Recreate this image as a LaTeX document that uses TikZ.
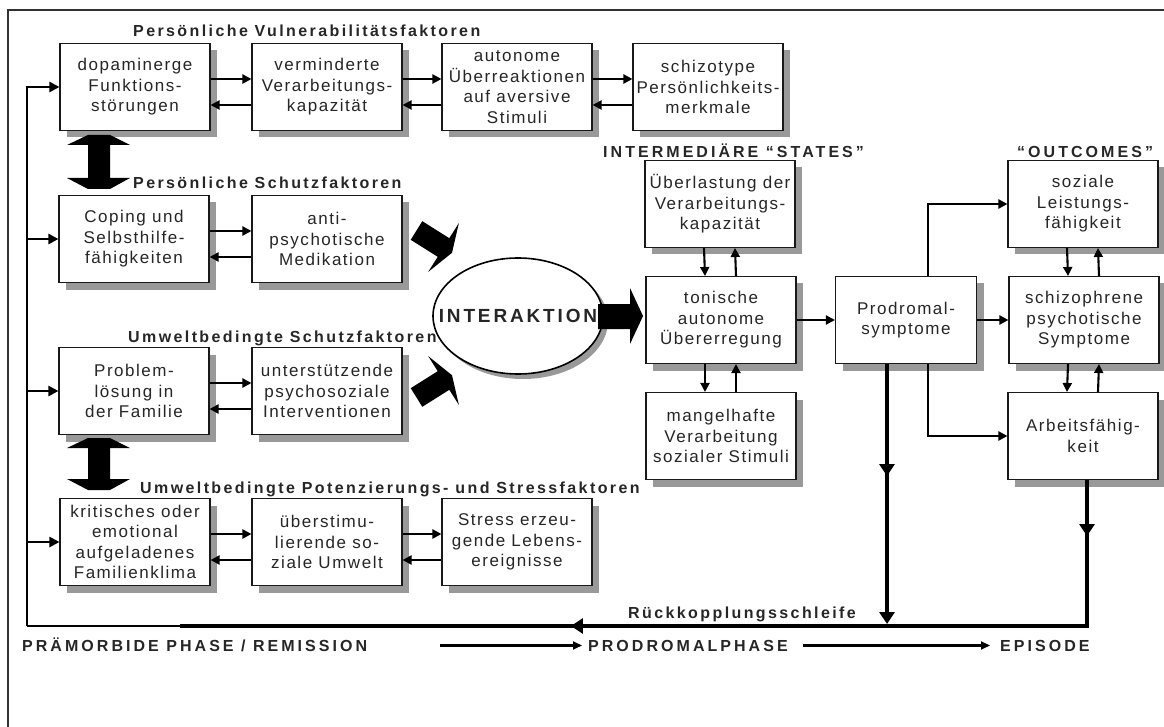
\documentclass[tikz,border=0pt]{standalone}
\usepackage{fontspec}
\setmainfont{Liberation Sans}
\newfontfamily\boxfont[LetterSpace=9]{Liberation Sans}
\newfontfamily\titlefont[LetterSpace=15]{Liberation Sans}
\newfontfamily\capsfont[LetterSpace=19]{Liberation Sans}
\usetikzlibrary{arrows.meta,shadows,decorations.markings,shapes.geometric,calc}
\begin{document}
\begin{tikzpicture}[x=1pt,y=-1pt,
  box/.style={draw=black!90, line width=1.1pt, fill=white, minimum width=150pt, minimum height=87pt,
    align=center, inner sep=1pt, font=\boxfont\fontsize{17}{20.5}\selectfont, text=black!85,
    drop shadow={shadow xshift=7pt, shadow yshift=-7pt, fill=black!40, opacity=1}},
  ttl/.style={font=\titlefont\bfseries\fontsize{16}{18}\selectfont, text=black!85, inner sep=0pt, anchor=base west},
  capttl/.style={font=\capsfont\bfseries\fontsize{16}{18}\selectfont, text=black!85, inner sep=0pt, anchor=base west},
  arr/.style={line width=2.1pt, -{Triangle[length=9pt,width=9pt]}},
  thinarr/.style={line width=2.1pt, -{Triangle[length=9pt,width=8pt]}},
  thickl/.style={line width=4pt},
  bigtip/.style={-{Triangle[length=12pt,width=15pt]}},
  blk/.style={fill=black}
]
\useasboundingbox (0,0) rectangle (1164,727);
% frame
\draw[line width=1.3pt, black!80] (8,727) -- (8,10) -- (1164,10);

% titles
\node[ttl] (t1) at (133,37) {Persönliche Vulnerabilitätsfaktoren};
\node[ttl] (t2) at (133,189) {Persönliche Schutzfaktoren};
\node[ttl] (t4) at (140,493) {Umweltbedingte Potenzierungs- und Stressfaktoren};
\node[capttl] (t5) at (603,158) {INTERMEDIÄRE “STATES”};
\node[capttl] (t6) at (1017,158) {“OUTCOMES”};
\node[ttl] (t7) at (628,618) {Rückkopplungsschleife};
\node[capttl] (ph1) at (22,651) {PRÄMORBIDE PHASE / REMISSION};
\node[capttl] (ph2) at (588,651) {PRODROMALPHASE};
\node[capttl] (ph3) at (1000,651) {EPISODE};

% left column boxes
\node[box] (A) at (135,87) {dopaminerge\\Funktions-\\störungen};
\node[box] (B) at (327,87) {verminderte\\Verarbeitungs-\\kapazität};
\node[box] (C) at (517,87) {autonome\\Überreaktionen\\auf aversive\\Stimuli};
\node[box] (D) at (708,87) {schizotype\\Persönlichkeits-\\merkmale};
\node[box] (E) at (134,239) {Coping und\\Selbsthilfe-\\fähigkeiten};
\node[box] (F) at (327,239) {anti-\\psychotische\\Medikation};
\node[box] (G) at (134,391) {Problem-\\lösung in\\der Familie};
\node[box] (H) at (327,391) {unterstützende\\psychosoziale\\Interventionen};
\node[box] (I) at (135,542) {kritisches oder\\emotional\\aufgeladenes\\Familienklima};
\node[box] (J) at (327,542) {überstimu-\\lierende so-\\ziale Umwelt};
\node[box] (K) at (517,542) {Stress erzeu-\\gende Lebens-\\ereignisse};

% right boxes
\node[box] (L) at (720,204) {Überlastung der\\Verarbeitungs-\\kapazität};
\node[box] (M) at (721,320) {tonische\\autonome\\Übererregung};
\node[box] (N) at (721,436) {mangelhafte\\Verarbeitung\\sozialer Stimuli};
\node[box, minimum width=141pt] (O) at (906,320) {Prodromal-\\symptome};
\node[box] (P) at (1083,204) {soziale\\Leistungs-\\fähigkeit};
\node[box] (Q) at (1084,320) {schizophrene\\psychotische\\Symptome};
\node[box] (R) at (1083,436) {Arbeitsfähig-\\keit};

% interaction ellipse
\node[ellipse, draw=black, line width=1.6pt, fill=white, minimum width=170pt, minimum height=116pt, inner sep=0pt,
  drop shadow={shadow xshift=5pt, shadow yshift=-5pt, fill=black!40, opacity=1}] (X) at (518,316) {};
\node[font=\titlefont\bfseries\fontsize{19}{21}\selectfont, text=black!85, inner sep=0pt] (Xt) at (X.center) {INTERAKTION};
\node[ttl] (t3) at (128,342) {Umweltbedingte Schutzfaktoren};

% horizontal pair arrows
\foreach \a/\b in {A/B,B/C,C/D,E/F,G/H,I/J,J/K}{
  \draw[arr] ([yshift=8pt]\a.east) -- ([yshift=8pt]\b.west);
  \draw[arr] ([yshift=-18pt]\b.west) -- ([yshift=-18pt]\a.east);
}
% vertical pair arrows
\foreach \a/\b in {L/M,M/N,P/Q,Q/R}{
  \draw[arr] ([xshift=-16pt]\a.south) -- ([xshift=-16pt]\b.north);
  \draw[arr] ([xshift=15pt]\b.north) -- ([xshift=15pt]\a.south);
}
\draw[arr] (M.east) -- (O.west |- M.east);
\draw[arr] (O.east) -- (Q.west |- O.east);
\draw[arr] ([xshift=22pt]O.north) |- (P.west);
\draw[arr] ([xshift=22pt]O.south) |- (R.west);

% block double arrows
\fill[blk] (88,135) -- (110,135) -- (130,145) -- (110,145) -- (110,178) -- (130,178) -- (110,189)
  -- (88,189) -- (67,178) -- (88,178) -- (88,145) -- (67,145) -- cycle;
\fill[blk] (88,438) -- (110,438) -- (130,448) -- (110,448) -- (110,479) -- (130,479) -- (110,490)
  -- (88,490) -- (67,479) -- (88,479) -- (88,448) -- (67,448) -- cycle;
% block arrows into ellipse
\fill[blk] (422.3,221.2) -- (449.3,238.2) -- (458.9,223) -- (452,252.8) -- (428.1,272) -- (437.7,256.8) -- (410.7,239.8) -- cycle;
\fill[blk] (422.3,406.8) -- (449.3,389.8) -- (458.9,405) -- (452,375.2) -- (428.1,356) -- (437.7,371.2) -- (410.7,388.2) -- cycle;
% block arrow ellipse -> M
\fill[blk] (598,304) -- (630,304) -- (630,288) -- (643,316) -- (630,344) -- (630,329) -- (598,329) -- cycle;

% feedback loop
\coordinate (fbC) at (1087,626);
\coordinate (fbM) at (180,626);
\coordinate (fbL) at (27,626);
\draw[thickl, postaction={decorate}, decoration={markings,
   mark=at position 56pt with {\arrow{Triangle[length=12pt,width=15pt]}},
   mark=at position 662pt with {\arrow{Triangle[length=12pt,width=15pt]}}}]
   ([xshift=4pt]R.south) -- (fbC) -- (fbM);
\draw[line width=2.6pt] (fbM) -- (fbL);
\draw[line width=2.4pt, -{Triangle[length=10pt,width=10pt]}] (fbL) |- (A.west);
\foreach \n in {E,G,I}{
  \draw[line width=2.4pt, -{Triangle[length=10pt,width=10pt]}] (fbL |- \n.west) -- (\n.west);
}
\coordinate (ob) at ([xshift=-19pt]O.south);
\draw[thickl, bigtip, postaction={decorate}, decoration={markings,
   mark=at position 112pt with {\arrow{Triangle[length=12pt,width=15pt]}}}]
   (ob) -- ([yshift=2pt]ob |- fbC);

% phase arrows
\coordinate (a1) at (440,0);
\coordinate (a2) at (803,0);
\draw[thinarr] (a1 |- ph2.west) -- ([xshift=-6pt]ph2.west);
\draw[thinarr] (a2 |- ph3.west) -- ([xshift=-10pt]ph3.west);
\end{tikzpicture}
\end{document}
